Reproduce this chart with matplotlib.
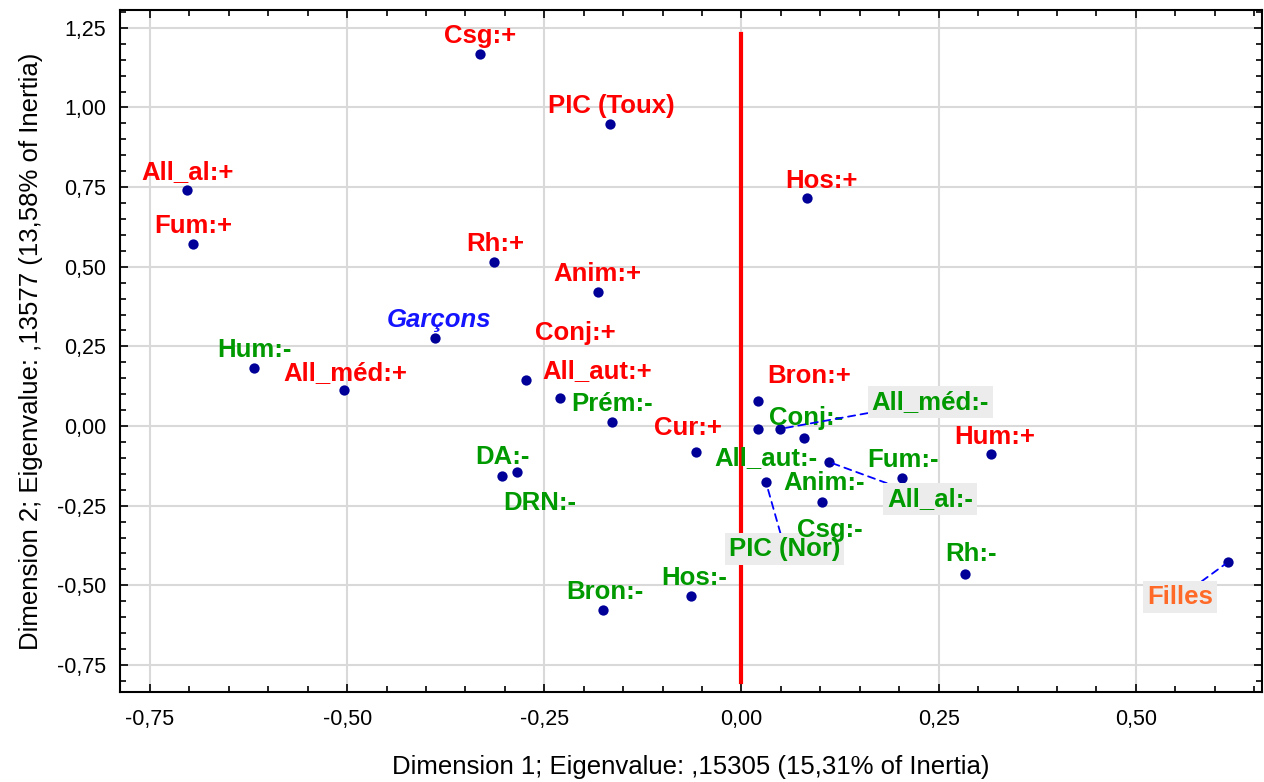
import matplotlib
matplotlib.use('Agg')
import matplotlib.pyplot as plt
from matplotlib.ticker import MultipleLocator, FuncFormatter

# Category labels and their coordinates on the two first dimensions
labels = ['Csg:+', 'PIC (Toux)', 'All_al:+', 'Fum:+', 'Hos:+', 'Rh:+', 'Anim:+',
          'Garçons', 'Hum:-', 'All_méd:+', 'Conj:+', 'All_aut:+', 'Prém:-', 'Cur:+',
          'DA:-', 'DRN:-', 'Bron:+', 'Conj:-', 'All_méd:-', 'All_aut:-', 'All_al:-',
          'PIC (Nor)', 'Anim:-', 'Csg:-', 'Fum:-', 'Hum:+', 'Rh:-', 'Hos:-', 'Bron:-',
          'Filles']
dim1 = [-0.332, -0.167, -0.703, -0.695, 0.083, -0.314, -0.182,
        -0.388, -0.618, -0.504, -0.273, -0.230, -0.164, -0.058,
        -0.304, -0.285, 0.021, 0.079, 0.049, 0.021, 0.111,
        0.031, 0.102, 0.112, 0.204, 0.317, 0.284, -0.064, -0.176,
        0.617]
dim2 = [1.168, 0.948, 0.741, 0.571, 0.716, 0.515, 0.421,
        0.276, 0.182, 0.113, 0.144, 0.088, 0.013, -0.082,
        -0.157, -0.144, 0.078, -0.038, -0.009, -0.009, -0.113,
        -0.176, -0.239, -0.383, -0.163, -0.088, -0.465, -0.534, -0.578,
        -0.427]
groups = ['plus', 'plus', 'plus', 'plus', 'plus', 'plus', 'plus',
          'boy', 'minus', 'plus', 'plus', 'plus', 'minus', 'plus',
          'minus', 'minus', 'plus', 'minus', 'minus', 'minus', 'minus',
          'minus', 'minus', 'minus', 'minus', 'plus', 'minus', 'minus', 'minus',
          'girl']

# label placement (pixels from the point) and which labels sit in a box
offsets = [(0, 18), (2, 18), (1, 18), (0, 18), (15, 17), (1, 18), (-1, 18),
           (4, 18), (0, 18), (1, 17), (49, 47), (37, 27), (0, 18), (-8, 24),
           (1, 19), (23, -31), (51, 25), (2, 20), (150, 27), (8, -29), (101, -37),
           (19, -67), (2, 19), (0, 18), (1, 18), (3, 17), (6, 20), (3, 18), (2, 18),
           (-48, -35)]
boxed = ['All_méd:-', 'All_al:-', 'PIC (Nor)', 'Filles']

colors = {'plus': '#FF0000', 'minus': '#009900', 'boy': '#1414FF', 'girl': '#FF6A28'}

fig = plt.figure(figsize=(12.64, 7.82), dpi=100)
ax = fig.add_axes([120 / 1264, 1 - 692 / 782, (1262 - 120) / 1264, (692 - 10) / 782])

ax.set_xlim(-0.788, 0.660)
ax.set_ylim(-0.835, 1.306)

# grid + ticks
ax.xaxis.set_major_locator(MultipleLocator(0.25))
ax.yaxis.set_major_locator(MultipleLocator(0.25))
ax.xaxis.set_minor_locator(MultipleLocator(0.05))
ax.yaxis.set_minor_locator(MultipleLocator(0.05))
fmt = FuncFormatter(lambda v, p: f"{v:.2f}".replace('.', ',').replace('-0,00', '0,00'))
ax.xaxis.set_major_formatter(fmt)
ax.yaxis.set_major_formatter(fmt)
ax.grid(True, which='major', color='#D9D9D9', linewidth=1.5, zorder=0)
ax.set_axisbelow(True)
ax.tick_params(which='both', direction='in', top=True, right=True, width=1.2,
               labelsize=15.5, labelfontfamily='Liberation Sans')
ax.tick_params(axis='x', pad=12)
ax.tick_params(axis='y', pad=10)
ax.tick_params(which='major', length=6)
ax.tick_params(which='minor', length=4)
for s in ax.spines.values():
    s.set_linewidth(1.5)

# red reference line
ax.plot([0, 0], [-0.804, 1.231], color='#FF0000', linewidth=3, zorder=2)

ax.scatter(dim1, dim2, s=55, color='#000099', zorder=3, linewidths=0)

for lab, xx, yy, g, off in zip(labels, dim1, dim2, groups, offsets):
    kw = dict(fontsize=18.5, fontweight='bold', color=colors[g], ha='center', va='center',
              family='Liberation Sans', zorder=4)
    if g == 'boy':
        kw['fontstyle'] = 'italic'
    if lab in boxed:
        kw['bbox'] = dict(boxstyle='square,pad=0.15', facecolor='#ECECEC', edgecolor='none')
        kw['arrowprops'] = dict(arrowstyle='-', linestyle=(0, (4, 3)), color='#0000FF',
                                linewidth=1.3, shrinkA=0, shrinkB=3)
    ax.annotate(lab, (xx, yy), xytext=off, textcoords='offset pixels', **kw)

ax.set_xlabel('Dimension 1; Eigenvalue: ,15305 (15,31% of Inertia)', fontsize=18.5,
              family='Liberation Sans', labelpad=18)
ax.set_ylabel('Dimension 2; Eigenvalue: ,13577 (13,58% of Inertia)', fontsize=18.5,
              family='Liberation Sans', labelpad=10)

fig.savefig('out.png', dpi=100)
